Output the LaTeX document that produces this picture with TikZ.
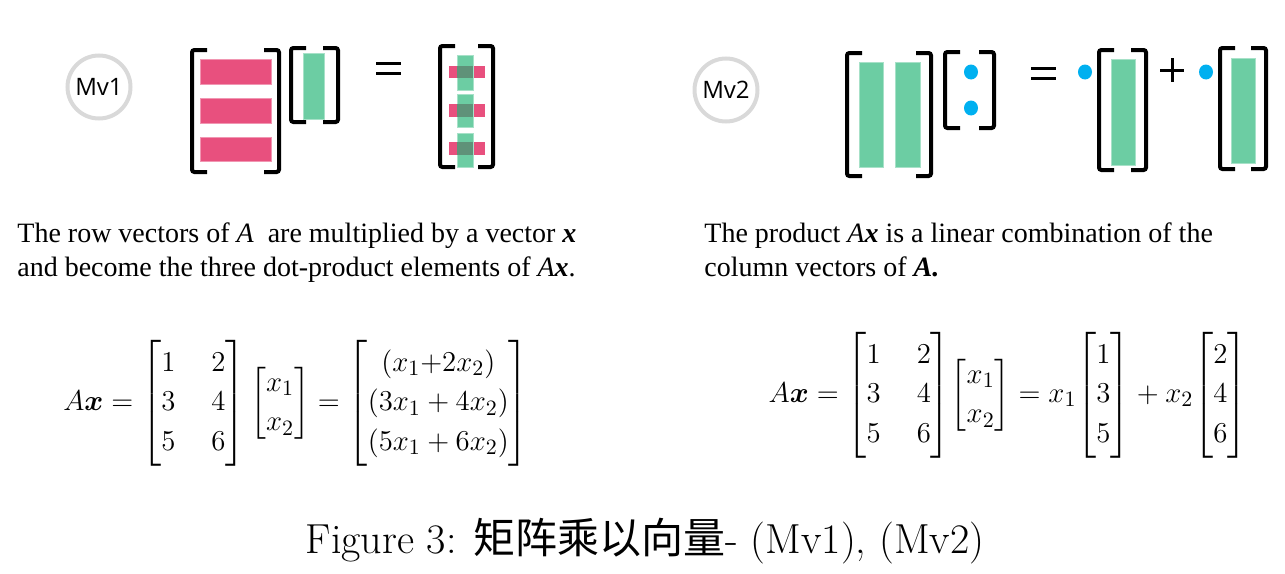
\documentclass[tikz,border=0pt]{standalone}
\usepackage{amsmath,amssymb}
\usepackage{fontspec}
\usepackage{xcolor}
\usepackage{tikz}
\usetikzlibrary{positioning, calc}
\newfontfamily\bodyfont{Liberation Serif}
\newfontfamily\iconfont{Open Sans}
\newfontfamily\cjk{Noto Sans CJK SC}
\definecolor{rowpink}{HTML}{E8507E}
\definecolor{colgreen}{HTML}{6CCDA3}
\definecolor{crossmix}{HTML}{5F9279}
\definecolor{dotblue}{HTML}{00B0F0}
\definecolor{ringgray}{HTML}{D9D9D9}
\renewcommand{\arraystretch}{1.1}
\tikzset{
  brk/.style={line width=2pt, rounded corners=1.2pt},
  rowbar/.style={fill=rowpink, draw=rowpink!60!white, line width=0.4pt},
  colbar/.style={fill=colgreen, draw=colgreen!60!white, line width=0.4pt},
  eqline/.style={line width=1.5pt},
  ring/.style={circle, draw=ringgray, line width=2pt, minimum size=31.5pt, inner sep=0pt, font=\iconfont\fontsize{12}{14}\selectfont},
  note/.style={anchor=north west, inner sep=0pt, align=left, font=\bodyfont\fontsize{14}{17}\selectfont},
  eqn/.style={inner sep=0pt, font=\fontsize{15}{18}\selectfont},
}

\begin{document}
\begin{tikzpicture}[x=0.5pt, y=-0.5pt]
  \useasboundingbox (0,0) rectangle (1285,573);
  \def\hook{15}
  % Mv1
  \node[ring] (mvone) at (99,87) {Mv1};
  \foreach \y/\yy in {59/84, 98/123, 137/161}
    \draw[rowbar] (200,\y) rectangle (271,\yy);
  \draw[colbar] (303,53) rectangle (324,119);
  \foreach \y in {63,73}
    \draw[eqline] (376,\y) -- (401,\y);
  \foreach \y/\yy/\g/\gg in {66/78/55/90, 104/117/94/127, 142/155/133/167} {
    \fill[rowpink] (449,\y) rectangle (485,\yy);
    \draw[colbar] (457,\g) rectangle (473,\gg);
    \fill[crossmix] (457,\y) rectangle (473,\yy);
  }
  % Mv2
  \node[ring] (mvtwo) at (726,90) {Mv2};
  \draw[colbar] (859,62) rectangle (883,167);
  \draw[colbar] (895,62) rectangle (920,167);
  \draw[colbar] (1111,59) rectangle (1135,165);
  \draw[colbar] (1231,58) rectangle (1255,163);
  \foreach \p in {(971,72), (971,108), (1085,72), (1206,72)}
    \fill[dotblue] \p ellipse[x radius=7, y radius=7.5];
  \foreach \y in {68,78}
    \draw[eqline] (1031,\y) -- (1056,\y);
  \draw[eqline] (1160,70) -- (1184,70);
  \draw[eqline] (1172,58) -- (1172,82);
  % brackets
  \foreach \l/\r/\t/\b in {192/279/50/172, 291/338/48/122, 440/493/46/167,
                           847/931/53/176, 945/994/52/128, 1099/1146/50/170, 1220/1266/48/169} {
    \draw[brk] ({\l+\hook},\t) -- (\l,\t) -- (\l,\b) -- ({\l+\hook},\b);
    \draw[brk] ({\r-\hook},\t) -- (\r,\t) -- (\r,\b) -- ({\r-\hook},\b);
  }
  \node[note] (rowtext) at (17,222) {The row vectors of {\itshape A}\ \ are multiplied by a vector {\bfseries\itshape x}\\and become the three dot-product elements of {\itshape A}{\bfseries\itshape x}.};
  \node[note] (coltext) at (704,222) {The product {\itshape A}{\bfseries\itshape x} is a linear combination of the\\column vectors of {\bfseries\itshape A.}};
  \node[eqn] (rowform) at (296,403) {$A\boldsymbol{x} = \begin{bmatrix}1 & \;\;2\\3 & \;\;4\\5 & \;\;6\end{bmatrix} \begin{bmatrix}x_1\\x_2\end{bmatrix} = \begin{bmatrix}(x_1{+}2x_2)\\(3x_1+4x_2)\\(5x_1+6x_2)\end{bmatrix}$};
  \node[eqn] (colform) at (1008,395) {$A\boldsymbol{x} = \begin{bmatrix}1 & \;\;2\\3 & \;\;4\\5 & \;\;6\end{bmatrix}\!\begin{bmatrix}x_1\\x_2\end{bmatrix} = x_1\! \begin{bmatrix}1\\3\\5\end{bmatrix} + x_2\! \begin{bmatrix}2\\4\\6\end{bmatrix}$};
  \node[anchor=base, inner sep=0pt, font=\fontsize{21}{25}\selectfont] (caption) at (645,553) {Figure 3: {\cjk 矩阵乘以向量}- (Mv1), (Mv2)};
\end{tikzpicture}
\end{document}
